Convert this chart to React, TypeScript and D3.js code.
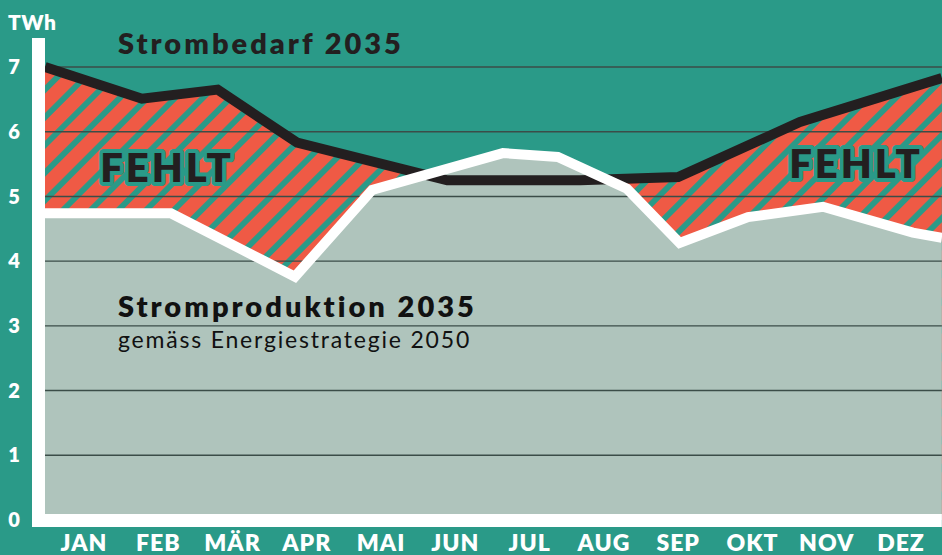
import React from 'react';
import * as d3 from 'd3';

const W = 942;
const H = 555;

const months = ['JAN', 'FEB', 'MÄR', 'APR', 'MAI', 'JUN', 'JUL', 'AUG', 'SEP', 'OKT', 'NOV', 'DEZ'];
const yTicks = [0, 1, 2, 3, 4, 5, 6, 7];

// Strombedarf 2035 (month position, TWh)
const demandPos = [-0.525, 0.78, 1.8, 2.87, 4.89, 6.68, 8.0, 9.64, 11.55];
const demandVal = [7.0, 6.51, 6.65, 5.83, 5.25, 5.25, 5.3, 6.15, 6.83];

// Stromproduktion 2035 (month position, TWh)
const prodPos = [-0.525, 1.17, 2.84, 3.88, 5.64, 6.38, 7.31, 8.02, 8.94, 9.95, 11.16, 11.55];
const prodVal = [4.74, 4.74, 3.76, 5.1, 5.67, 5.61, 5.12, 4.28, 4.68, 4.84, 4.44, 4.36];

const TEAL = '#2a9a88';
const RED = '#ef5a45';
const GREY = '#afc4bc';
const DARK = '#231f20';
const GRID = '#3b4d48';

const FONT = 'Lato, "Open Sans", sans-serif';

export default function App() {
  const x = d3.scaleLinear().domain([0, 11]).range([84, 901]);
  const y = d3.scaleLinear().domain([0, 7]).range([520, 67]);

  const demand = demandPos.map((p, i) => [p, demandVal[i]] as [number, number]);
  const prod = prodPos.map((p, i) => [p, prodVal[i]] as [number, number]);

  const left = x(-0.525);
  const right = x(11.55);

  const area = d3
    .area<[number, number]>()
    .x((d) => x(d[0]))
    .y0(y(0))
    .y1((d) => y(d[1]));
  const line = d3
    .line<[number, number]>()
    .x((d) => x(d[0]))
    .y((d) => y(d[1]));

  return (
    <>
      <style>{`body{margin:0;background:${TEAL}}`}</style>
      <svg width={W} height={H} style={{ display: 'block' }}>
        <defs>
          <pattern
            id="hatch"
            patternUnits="userSpaceOnUse"
            width={19.6}
            height={20}
            patternTransform="rotate(45)"
          >
            <rect width={19.6} height={20} fill={TEAL} />
            <rect width={13.8} height={20} fill={RED} />
          </pattern>
        </defs>
        <rect width={W} height={H} fill={TEAL} />

        {/* areas */}
        <path d={area(demand) ?? ''} fill="url(#hatch)" />
        <path d={area(prod) ?? ''} fill={GREY} />

        {/* gridlines */}
        {yTicks.slice(1).map((t) => (
          <line key={t} x1={left} x2={right} y1={y(t)} y2={y(t)} stroke={GRID} strokeWidth={1.4} />
        ))}

        {/* lines */}
        <path d={line(demand) ?? ''} fill="none" stroke={DARK} strokeWidth={10} strokeLinejoin="miter" />
        <path d={line(prod) ?? ''} fill="none" stroke="#fff" strokeWidth={10} strokeLinejoin="miter" />

        {/* white axis frame */}
        <rect x={32} y={38} width={left - 32} height={y(0) + 7 - 38} fill="#fff" />
        <rect x={32} y={y(0) - 6} width={right - 32} height={13} fill="#fff" />

        {/* y labels */}
        <text x={8} y={30} fill="#fff" fontFamily={FONT} fontWeight={800} fontSize={21} letterSpacing={0.5}>
          TWh
        </text>
        {yTicks.map((t) => (
          <text
            key={t}
            x={14}
            y={y(t)}
            dy="0.36em"
            textAnchor="middle"
            fill="#fff"
            fontFamily={FONT}
            fontWeight={800}
            fontSize={20}
          >
            {t}
          </text>
        ))}

        {/* month labels */}
        {months.map((m, i) => (
          <text
            key={m}
            x={x(i)}
            y={551}
            textAnchor="middle"
            fill="#fff"
            fontFamily={FONT}
            fontWeight={800}
            fontSize={23}
            letterSpacing={1}
          >
            {m}
          </text>
        ))}

        {/* annotations */}
        <text x={118} y={54} fill={DARK} fontFamily={FONT} fontWeight={800} fontSize={29} letterSpacing={3}>
          Strombedarf 2035
        </text>
        {[
          [167, 182],
          [856, 178],
        ].map(([cx, cy], i) => (
          <text
            key={i}
            x={cx}
            y={cy}
            textAnchor="middle"
            fill={DARK}
            stroke={TEAL}
            strokeWidth={8}
            strokeLinejoin="round"
            paintOrder="stroke"
            fontFamily={FONT}
            fontWeight={800}
            fontSize={40}
            letterSpacing={3}
          >
            FEHLT
          </text>
        ))}
        <text x={118} y={317} fill="#111" fontFamily={FONT} fontWeight={800} fontSize={29} letterSpacing={3}>
          Stromproduktion 2035
        </text>
        <text x={118} y={348} fill="#111" fontFamily={FONT} fontWeight={400} fontSize={23} letterSpacing={1.8}>
          gemäss Energiestrategie 2050
        </text>
      </svg>
    </>
  );
}
